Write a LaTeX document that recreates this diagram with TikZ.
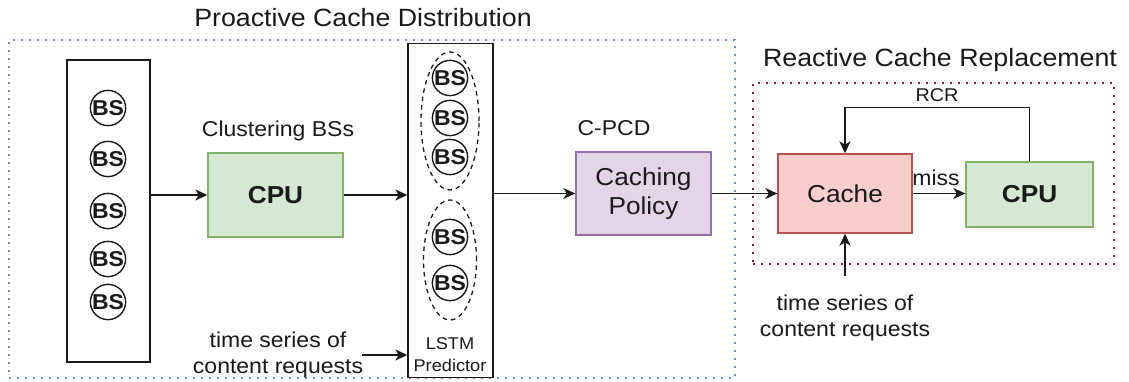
\documentclass[tikz,border=0pt]{standalone}
\usepackage{fontspec}
\setmainfont[FakeStretch=1.07]{Liberation Sans}
\usepackage{xcolor}
\usepackage{tikz}
\usetikzlibrary{arrows.meta,positioning,shapes.geometric}

\definecolor{cpufill}{HTML}{D5E8D4}
\definecolor{cpuline}{HTML}{82B366}
\definecolor{polfill}{HTML}{E1D5E7}
\definecolor{polline}{HTML}{9673A6}
\definecolor{cachefill}{HTML}{F8CECC}
\definecolor{cacheline}{HTML}{B85450}
\definecolor{pcdline}{HTML}{6C8EBF}
\definecolor{rcrline}{HTML}{8C1A4B}
\definecolor{txt}{HTML}{1A1A1A}

\begin{document}
\begin{tikzpicture}[x=1pt, y=-1pt, text=txt,
    bs/.style={circle, draw=txt, line width=1.4pt, minimum size=32pt, inner sep=0pt,
      font=\fontsize{21.5}{22}\selectfont\bfseries},
    group/.style={ellipse, draw=txt, dash pattern=on 4.5pt off 4pt, line width=1.3pt, inner sep=0pt},
    holder/.style={draw=txt, line width=1.4pt, inner sep=0pt},
    block/.style={line width=1.4pt, inner sep=0pt, align=center,
      font=\fontsize{24.5}{29}\selectfont},
    region/.style={line width=2pt, inner sep=0pt, dash pattern=on 2pt off 6pt},
    arr/.style={-{Stealth[length=12pt,width=11pt,inset=3.5pt]}, draw=txt, line width=1.4pt},
    lbl/.style={inner sep=0pt, align=center, font=\fontsize{22}{26.5}\selectfont}
  ]
    \useasboundingbox (0,0) rectangle (1129,382);

    % dotted regions
    \node(pcd) at (372,209) [region, draw=pcdline, minimum width=726, minimum height=338] {};
    \node(rcr) at (933.5,173.5) [region, draw=rcrline, minimum width=361, minimum height=181] {};
    \node(pcdtitle) at (363,18) [lbl, font=\fontsize{25}{30}\selectfont] {Proactive Cache Distribution};
    \node(rcrtitle) at (940,60) [lbl, font=\fontsize{25}{30}\selectfont] {Reactive Cache Replacement};

    % base stations
    \node(lbox) at (108.5,211) [holder, minimum width=83, minimum height=302] {};
    \node(bsA) at (108,108) [bs] {BS};
    \node(bsB) at (108,159) [bs] {BS};
    \node(bsC) at (108,211) [bs] {BS};
    \node(bsD) at (108,259) [bs] {BS};
    \node(bsE) at (108,302) [bs] {BS};

    % clustering
    \node(cpuA) at (275.5,195) [block, fill=cpufill, draw=cpuline, minimum width=135, minimum height=84,
      font=\fontsize{24.5}{29}\selectfont\bfseries] {CPU};
    \node(clust) at (278,131) [lbl, font=\fontsize{21.5}{26}\selectfont] {Clustering BSs};

    % LSTM predictor
    \node(lstm) at (450.5,210.5) [holder, minimum width=85, minimum height=334] {};
    \node(grpA) at (450,121) [group, minimum width=58, minimum height=138] {};
    \node(grpB) at (450,260) [group, minimum width=53, minimum height=120] {};
    \node(bsF) at (450,78) [bs] {BS};
    \node(bsG) at (450,118) [bs] {BS};
    \node(bsH) at (450,157) [bs] {BS};
    \node(bsI) at (450,237) [bs] {BS};
    \node(bsJ) at (450,283) [bs] {BS};
    \node(lstmlbl) at (450,355) [lbl, font=\fontsize{17}{22}\selectfont] {LSTM\\Predictor};
    \node(tsA) at (278,355) [lbl, font=\fontsize{21.5}{26.5}\selectfont] {time series of\\content requests};
    \coordinate(tsAin) at (362,355);

    % caching policy
    \node(policy) at (643.5,193.5) [block, fill=polfill, draw=polline, minimum width=135, minimum height=83] {Caching\\Policy};
    \node(cpcd) at (614,128) [lbl, font=\fontsize{21.5}{26}\selectfont] {C-PCD};

    % reactive part
    \node(cache) at (845,193.5) [block, fill=cachefill, draw=cacheline, minimum width=134, minimum height=79] {Cache};
    \node(cpuB) at (1029.5,194.5) [block, fill=cpufill, draw=cpuline, minimum width=127, minimum height=65,
      font=\fontsize{24.5}{29}\selectfont\bfseries] {CPU};
    \node(miss) at (936,178) [lbl, font=\fontsize{21.5}{26}\selectfont] {miss};
    \node(rcrlbl) at (937,95) [lbl, font=\fontsize{18.5}{22}\selectfont] {RCR};
    \node(tsB) at (845,318) [lbl, font=\fontsize{21.5}{26.5}\selectfont] {time series of\\content requests};
    \coordinate(tsBin) at (845,276);

    % connectors
    \draw[arr] (lbox.east |- cpuA.west) -- (cpuA.west);
    \draw[arr] (cpuA.east) -- (cpuA.east -| lstm.west);
    \draw[arr] (tsAin) -- (tsAin -| lstm.west);
    \draw[arr] (lstm.east |- policy.west) -- (policy.west);
    \draw[arr] (policy.east) -- (policy.east -| cache.west);
    \draw[arr] (cache.east) -- (cache.east -| cpuB.west);
    \draw[arr] (cpuB.north) -- ++(0,-54) -| (cache.north);
    \draw[arr] (tsBin) -- (cache.south);
  \end{tikzpicture}
\end{document}
